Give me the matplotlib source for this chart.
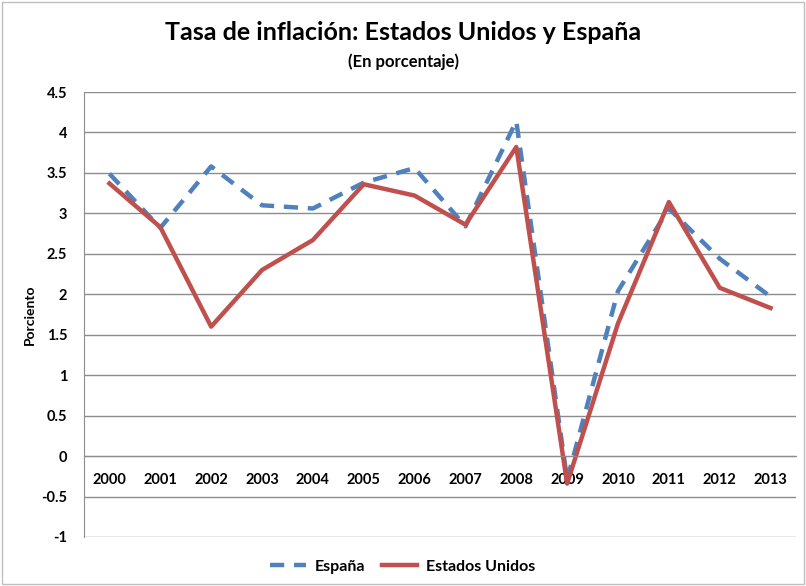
import matplotlib.pyplot as plt
from matplotlib.patches import Rectangle

years = ["2000", "2001", "2002", "2003", "2004", "2005", "2006",
         "2007", "2008", "2009", "2010", "2011", "2012", "2013"]
espana = [3.49, 2.82, 3.58, 3.10, 3.06, 3.38, 3.56, 2.84, 4.14, -0.29, 2.04, 3.06, 2.44, 1.97]
eeuu = [3.37, 2.83, 1.60, 2.30, 2.67, 3.36, 3.22, 2.86, 3.82, -0.34, 1.64, 3.14, 2.08, 1.83]
yticks = [-1, -0.5, 0, 0.5, 1, 1.5, 2, 2.5, 3, 3.5, 4, 4.5]

plt.rcParams['font.family'] = ['Lato', 'DejaVu Sans']
plt.rcParams['font.weight'] = 'bold'

fig = plt.figure(figsize=(8.06, 5.86), dpi=100)
ax = fig.add_axes([84 / 806, 1 - 537 / 586, (796 - 84) / 806, (537 - 92) / 586])

x = list(range(len(years)))
ax.plot(x, espana, color="#4F81BD", linewidth=3.2, dashes=(3.2, 2.2), label="España")
ax.plot(x, eeuu, color="#C0504D", linewidth=3.2, label="Estados Unidos")

ax.set_xlim(-0.5, 13.5)
ax.set_ylim(-1, 4.5)
ax.set_yticks(yticks)
ax.set_yticklabels([f"{v:g}" for v in yticks], fontsize=10.5, fontweight="bold")
ax.grid(axis="y", color="#8c8c8c", linewidth=1)
ax.set_axisbelow(True)
ax.tick_params(axis="y", length=0, pad=12)

ax.spines['bottom'].set_position(('data', 0))
ax.spines['bottom'].set_color("#8c8c8c")
ax.spines['left'].set_color("#8c8c8c")
ax.spines['top'].set_visible(False)
ax.spines['right'].set_visible(False)
ax.set_xticks(x)
ax.set_xticklabels(years, fontsize=10.5, fontweight="bold")
ax.tick_params(axis="x", length=0, pad=12)

ax.set_ylabel("Porciento", fontsize=10, fontweight="bold", labelpad=4)

fig.text(0.5, 1 - 32 / 586, "Tasa de inflación: Estados Unidos y España",
         ha="center", va="center", fontsize=18, fontweight="bold")
fig.text(0.5, 1 - 62 / 586, "(En porcentaje)", ha="center", va="center",
         fontsize=12, fontweight="bold")

leg = fig.legend(loc="center", bbox_to_anchor=(0.5, 1 - 567 / 586), ncol=2,
                 frameon=False, fontsize=11.5, handlelength=2.2, columnspacing=1.0,
                 handletextpad=0.6)

fig.patches.append(Rectangle((0.003, 0.003), 0.994, 0.994, transform=fig.transFigure,
                             fill=False, edgecolor="#bfbfbf", linewidth=1))

plt.savefig("out.png", dpi=100)
